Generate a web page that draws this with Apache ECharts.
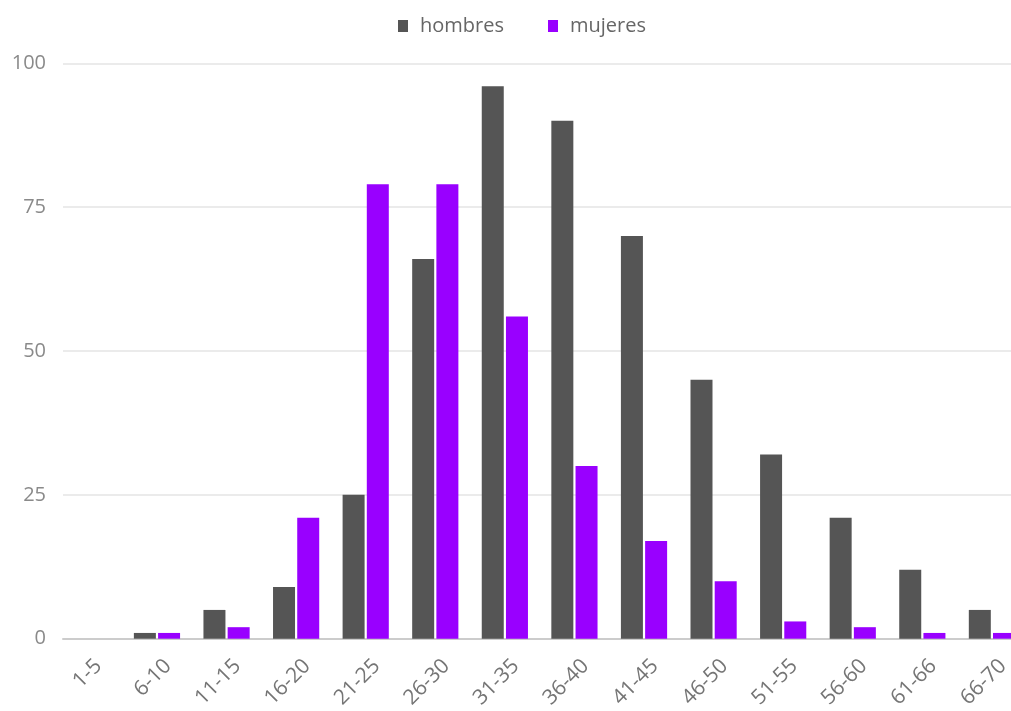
<!DOCTYPE html>
<html>
<head>
<meta charset="utf-8">
<script src="https://cdn.jsdelivr.net/npm/echarts@6/dist/echarts.min.js"></script>
<style>
html,body{margin:0;padding:0;background:#fff;overflow:hidden;width:1011px;height:711px;}
#chart{width:1040px;height:711px;}
</style>
</head>
<body>
<div id="chart"></div>
<script>
const categories = ['1-5','6-10','11-15','16-20','21-25','26-30','31-35','36-40','41-45','46-50','51-55','56-60','61-66','66-70'];
const hombres = [0,1,5,9,25,66,96,90,70,45,32,21,12,5];
const mujeres = [0,1,2,21,79,79,56,30,17,10,3,2,1,1];
const yTicks = { min: 0, max: 100, interval: 25 };

const font = '"Open Sans", sans-serif';
const chart = echarts.init(document.getElementById('chart'));
chart.setOption({
  animation: false,
  backgroundColor: '#fff',
  legend: {
    top: 11, left: 393,
    itemWidth: 10, itemHeight: 12, itemGap: 44,
    icon: 'rect',
    textStyle: { fontFamily: font, fontSize: 20, color: '#666', padding: [0, 0, 0, 7] },
    data: ['hombres','mujeres']
  },
  grid: [
    { left: 63, right: 0, top: 63.3, bottom: 72.3 },
    { left: 52.6, right: 13.3, top: 63.3, bottom: 72.3 },
    { left: 63.6, right: 2.3, top: 63.3, bottom: 72.3 }
  ],
  xAxis: [
    { type: 'category', gridIndex: 0, data: categories, axisTick: {show:false},
      axisLabel: {show:false}, axisLine: { lineStyle: { color: '#cccccc', width: 2 } } },
    { type: 'category', gridIndex: 1, data: categories, axisTick: {show:false},
      axisLine: {show:false}, axisLabel: {show:false} },
    { type: 'category', gridIndex: 2, data: categories, axisTick: {show:false},
      axisLine: {show:false},
      axisLabel: { rotate: 45, interval: 0, margin: 24, fontFamily: font, fontSize: 21, color: '#757575' } }
  ],
  yAxis: [
    { type: 'value', gridIndex: 0, min: yTicks.min, max: yTicks.max, interval: yTicks.interval,
      axisLine: {show:false}, axisTick: {show:false},
      axisLabel: { margin: 17, fontFamily: font, fontSize: 20, color: '#8a8a8a' },
      splitLine: { lineStyle: { color: '#e5e5e5', width: 1.5 } } },
    { type: 'value', gridIndex: 1, min: yTicks.min, max: yTicks.max, interval: yTicks.interval,
      show: false, splitLine: {show:false} },
    { type: 'value', gridIndex: 2, min: yTicks.min, max: yTicks.max, interval: yTicks.interval,
      show: false, splitLine: {show:false} }
  ],
  series: [
    { name: 'hombres', type: 'bar', xAxisIndex: 1, yAxisIndex: 1, data: hombres,
      barWidth: 22, barGap: '10%', itemStyle: { color: '#555555' } },
    { name: 'mujeres', type: 'bar', xAxisIndex: 1, yAxisIndex: 1, data: mujeres,
      barWidth: 22, barGap: '10%', itemStyle: { color: '#9900ff' } }
  ]
});
</script>
</body>
</html>
